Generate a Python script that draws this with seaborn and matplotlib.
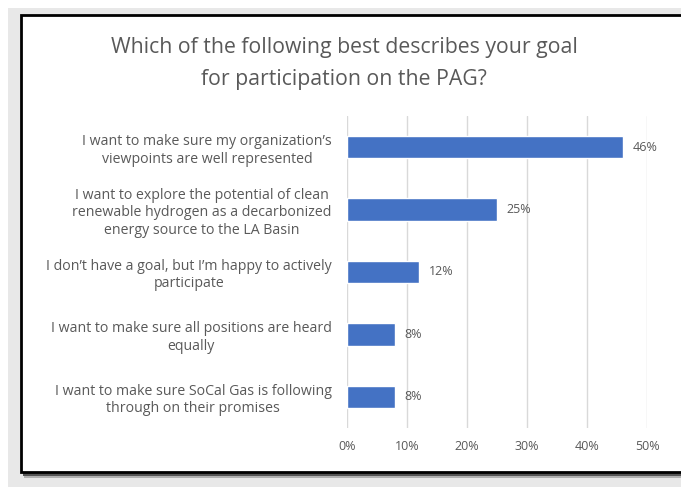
import numpy as np
import pandas as pd
import matplotlib
matplotlib.use("Agg")
import matplotlib.pyplot as plt
import seaborn as sns
from matplotlib.patches import Rectangle

# survey answers, top to bottom
answers = [
    "I want to make sure my organization\u2019s\nviewpoints are well represented",
    "I want to explore the potential of clean\nrenewable hydrogen as a decarbonized\nenergy source to the LA Basin",
    "I don\u2019t have a goal, but I\u2019m happy to actively\nparticipate",
    "I want to make sure all positions are heard\nequally",
    "I want to make sure SoCal Gas is following\nthrough on their promises",
]
shares = [46, 25, 12, 8, 8]
xticks = [0, 10, 20, 30, 40, 50]

df = pd.DataFrame({"answer": answers, "share": shares})

sns.set_style("white")
plt.rcParams["font.family"] = ["Open Sans", "DejaVu Sans"]

W, H = 681, 488
fig = plt.figure(figsize=(W / 100, H / 100), dpi=100)
fig.patch.set_facecolor("white")

def px_rect(x0, y0, x1, y1, **kw):
    # rectangle in pixel coords measured from top-left
    return Rectangle((x0 / W, 1 - y1 / H), (x1 - x0) / W, (y1 - y0) / H,
                     transform=fig.transFigure, **kw)

# slide background, shadow and framed chart box
fig.patches.append(px_rect(8, 8, 690, 487, facecolor="#e8e8e8", edgecolor="none", zorder=-6))
fig.patches.append(px_rect(24, 18, 690, 478, facecolor="#b0b0b0", edgecolor="none", zorder=-5))
fig.patches.append(px_rect(23, 17, 690, 475.5, facecolor="#555555", edgecolor="none", zorder=-4))
fig.patches.append(px_rect(21, 15, 690, 472, facecolor="white", edgecolor="black",
                           linewidth=2, zorder=-3))

ax = fig.add_axes([347 / W, 1 - 428 / H, 300 / W, 312 / H])
sns.barplot(data=df, x="share", y="answer", orient="h", color="#4472C4",
            width=0.36, saturation=1, ax=ax, zorder=3)

ax.set_xlim(0, 50)
ax.set_ylim(4.5, -0.5)
ax.set_xticks(xticks)
ax.set_xticklabels([f"{t}%" for t in xticks], color="#595959", fontsize=9)
ax.tick_params(axis="y", labelsize=10.2, labelcolor="#595959", length=0, pad=11)
ax.tick_params(axis="x", length=0, pad=9)
for lbl in ax.get_yticklabels():
    lbl.set_horizontalalignment("right")
    lbl.set_multialignment("center")
    lbl.set_linespacing(1.22)
ax.set_xlabel("")
ax.set_ylabel("")
ax.grid(axis="x", color="#d9d9d9", linewidth=1, zorder=0)
sns.despine(ax=ax, left=True, bottom=True, top=True, right=True)
ax.set_facecolor("none")

for i, v in enumerate(shares):
    ax.text(v + 1.6, i, f"{v}%", va="center", ha="left", color="#595959", fontsize=9)

fig.text(344 / W, 1 - 48 / H, "Which of the following best describes your goal",
         ha="center", va="center", fontsize=15.3, color="#595959")
fig.text(344 / W, 1 - 80 / H, "for participation on the PAG?",
         ha="center", va="center", fontsize=15.3, color="#595959")

fig.savefig("out.png", dpi=100)
